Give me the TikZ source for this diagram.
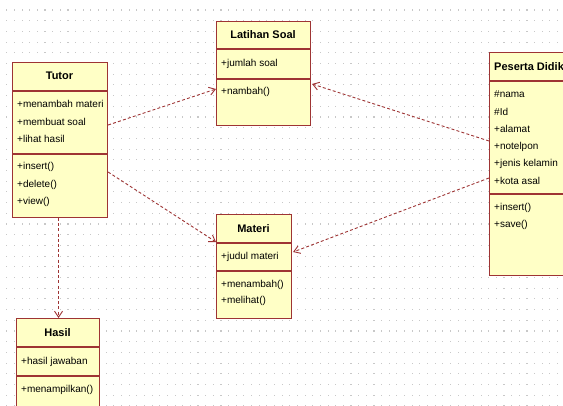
\documentclass[tikz,border=0pt]{standalone}
\usepackage{fontspec}
\setmainfont{Liberation Sans}
\usetikzlibrary{arrows.meta}
\definecolor{umlfill}{HTML}{FFFFC6}
\definecolor{umlline}{HTML}{9E3434}
\definecolor{griddot}{HTML}{C8C8C8}
\tikzset{
  cls/.style={draw=umlline, fill=umlfill, line width=1.1pt, inner sep=0pt, anchor=north west},
  sep/.style={draw=umlline, line width=1.1pt},
  hdr/.style={font=\fontsize{11}{13}\selectfont\bfseries, inner sep=0pt},
  mem/.style={font=\fontsize{10}{12}\selectfont, inner sep=0pt, anchor=west},
  dep/.style={draw=umlline, line width=0.9pt, dash pattern=on 3pt off 2.2pt, -{Straight Barb[length=6pt,width=8pt,line width=0.9pt]}},
}
\begin{document}
\begin{tikzpicture}[x=1pt, y=-1pt]
\useasboundingbox (0,0) rectangle (563,406);
\fill[white] (0,0) rectangle (563,406);
% dotted grid
\foreach \i in {0,...,72} {
  \foreach \j in {0,...,37} {
    \fill[griddot] ({6.2+7.65*\i},{9.5+10.7*\j}) rectangle ++(1.1,1.1);
  }
}

% Tutor
\node[cls, minimum width=95pt, minimum height=155pt] (tutor) at (12,62) {};
\draw[sep] (12,91) -- (107,91);
\draw[sep] (12,154) -- (107,154);
\node[hdr] (tutorH) at (59.5,76) {Tutor};
\node[mem] (t1) at (17,104) {+menambah materi};
\node[mem] (t2) at (17,121.5) {+membuat soal};
\node[mem] (t3) at (17,139) {+lihat hasil};
\node[mem] (t4) at (17,167) {+insert()};
\node[mem] (t5) at (17,184.5) {+delete()};
\node[mem] (t6) at (17,202) {+view()};

% Latihan Soal
\node[cls, minimum width=94pt, minimum height=104pt] (lat) at (216,21) {};
\draw[sep] (216,49) -- (310,49);
\draw[sep] (216,79) -- (310,79);
\node[hdr] (latH) at (263,34.5) {Latihan Soal};
\node[mem] (l1) at (221,63.5) {+jumlah soal};
\node[mem] (l2) at (221,92) {+nambah()};

% Peserta Didik
\node[cls, minimum width=120pt, minimum height=223pt] (pes) at (489,52) {};
\draw[sep] (489,81) -- (609,81);
\draw[sep] (489,194) -- (609,194);
\node[hdr, anchor=west] (pesH) at (494,67) {Peserta Didik};
\node[mem] (p1) at (494,94) {\#nama};
\node[mem] (p2) at (494,111.5) {\#Id};
\node[mem] (p3) at (494,129) {+alamat};
\node[mem] (p4) at (494,146.5) {+notelpon};
\node[mem] (p5) at (494,164) {+jenis kelamin};
\node[mem] (p6) at (494,181) {+kota asal};
\node[mem] (p7) at (494,208) {+insert()};
\node[mem] (p8) at (494,225) {+save()};

% Materi
\node[cls, minimum width=75pt, minimum height=104pt] (mat) at (216,214) {};
\draw[sep] (216,243) -- (291,243);
\draw[sep] (216,271) -- (291,271);
\node[hdr] (matH) at (253.5,228.5) {Materi};
\node[mem] (m1) at (221,257) {+judul materi};
\node[mem] (m2) at (221,285) {+menambah()};
\node[mem] (m3) at (221,301) {+melihat()};

% Hasil
\node[cls, minimum width=83pt, minimum height=100pt] (has) at (16,318) {};
\draw[sep] (16,347) -- (99,347);
\draw[sep] (16,376) -- (99,376);
\node[hdr] (hasH) at (57.5,333) {Hasil};
\node[mem] (h1) at (21,362) {+hasil jawaban};
\node[mem] (h2) at (21,390) {+menampilkan()};

% dependencies
\draw[dep] ([yshift=-63pt]tutor.north east) -- ([yshift=-68pt]lat.north west);
\draw[dep] ([yshift=-110pt]tutor.north east) -- ([yshift=-28pt]mat.north west);
\draw[dep] ([yshift=-89pt]pes.north west) -- ([yshift=-63pt,xshift=1pt]lat.north east);
\draw[dep] ([yshift=-126pt]pes.north west) -- ([yshift=-38pt,xshift=1pt]mat.north east);
\draw[dep] ([xshift=-1.5pt]tutor.south) -- ([xshift=0.5pt]has.north);
\end{tikzpicture}
\end{document}
